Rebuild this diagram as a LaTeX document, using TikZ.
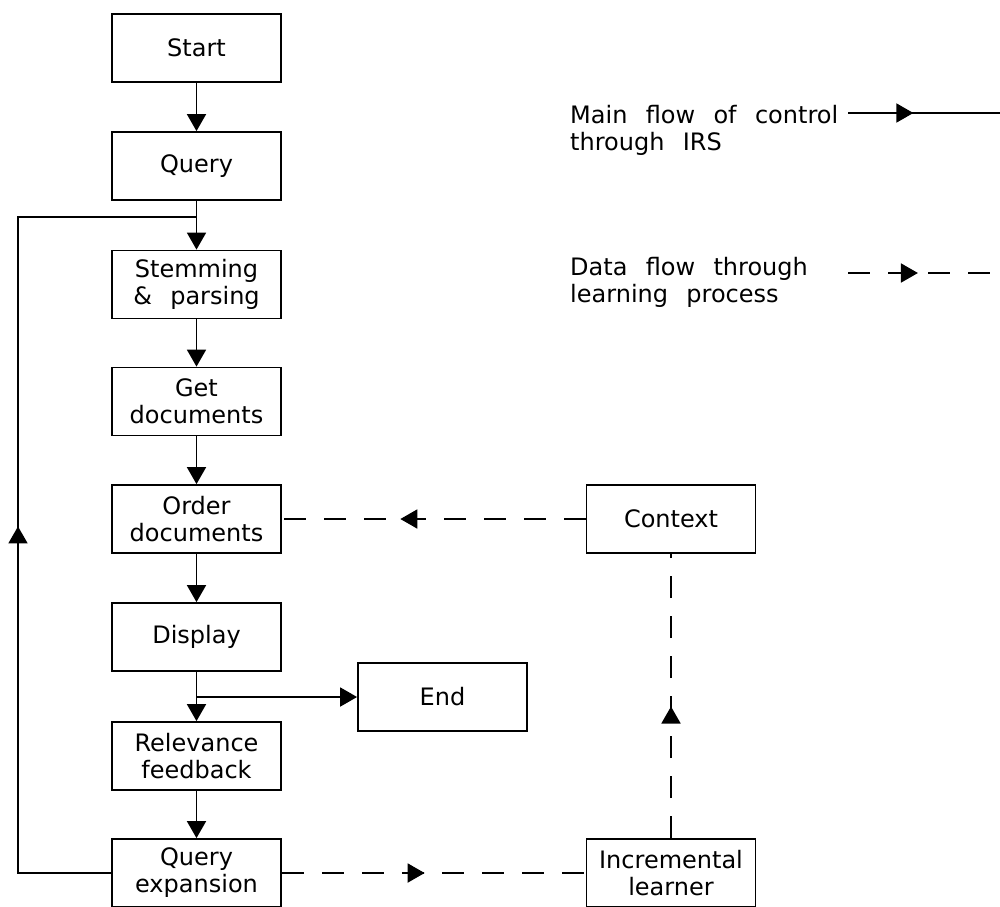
\documentclass[tikz,border=0pt]{standalone}
\usepackage{fontspec}
\setmainfont{DejaVu Sans}[WordSpace=2.4]
\usetikzlibrary{arrows.meta,decorations.markings}
\tikzset{
  box/.style={draw, line width=1.8pt, minimum width=169pt, minimum height=68pt,
    inner sep=0pt, align=center, font=\fontsize{24}{27}\selectfont},
  legendtext/.style={inner sep=0pt, align=left, font=\fontsize{24}{27}\selectfont},
  flow/.style={line width=1.8pt, -{Triangle[length=17pt,width=19pt]}},
  plain/.style={line width=1.8pt},
  dataflow/.style={line width=1.8pt, dash pattern=on 22pt off 18pt},
  midarrow/.style={postaction={decorate}, decoration={markings,
    mark=at position #1 with {\arrow{Triangle[length=17pt,width=19pt]}}}}
}
\begin{document}
\begin{tikzpicture}[x=1pt,y=-1pt]
\useasboundingbox (0,0) rectangle (1000,906);
\clip (0,0) rectangle (1000,906);
% main column
\node[box] (start)   at (196.5,48)    {Start};
\node[box] (query)   at (196.5,166)   {Query};
\node[box] (stem)    at (196.5,284.5) {Stemming\\\& parsing};
\node[box] (getdoc)  at (196.5,401.5) {Get\\documents};
\node[box] (order)   at (196.5,519)   {Order\\documents};
\node[box] (display) at (196.5,637)   {Display};
\node[box] (relev)   at (196.5,756)   {Relevance\\feedback};
\node[box] (qexp)    at (196.5,873)   {Query\\expansion};
\node[box] (end)     at (442.5,697)   {End};
\node[box] (context) at (671,519)     {Context};
\node[box] (learner) at (671,873)     {Incremental\\learner};
% legend
\node[legendtext, anchor=base west] (leg1) at (570,150) {Main flow of control\\through IRS};
\node[legendtext, anchor=base west] (leg2) at (570,302) {Data flow through\\learning process};
\coordinate (m1) at (848,113);
\coordinate (m2) at (1000,113);
\coordinate (d1) at (848,273);
\coordinate (d2) at (1000,273);
\draw[plain, midarrow=0.43] (m1) -- (m2);
\draw[dataflow, midarrow=0.46] (d1) -- (d2);
% main flow
\draw[flow] (start) -- (query);
\draw[flow] (query) -- (stem);
\draw[flow] (stem) -- (getdoc);
\draw[flow] (getdoc) -- (order);
\draw[flow] (order) -- (display);
\draw[flow] (display) -- (relev);
\draw[flow] (relev) -- (qexp);
\coordinate (dj) at (196.5,697);
\draw[flow] (dj) -- (end.west);
% loop back
\coordinate (lb) at (18,873);
\coordinate (lt) at (18,217);
\coordinate (lj) at (196.5,217);
\draw[plain, midarrow=0.474] (qexp.west) -- (lb) -- (lt) -- (lj);
% data flow
\draw[dataflow, midarrow=0.61] (context.west) -- (order.east);
\draw[dataflow, midarrow=0.47] (qexp.east) -- (learner.west);
\draw[dataflow, midarrow=0.463] (learner.north) -- (context.south);
\end{tikzpicture}
\end{document}
